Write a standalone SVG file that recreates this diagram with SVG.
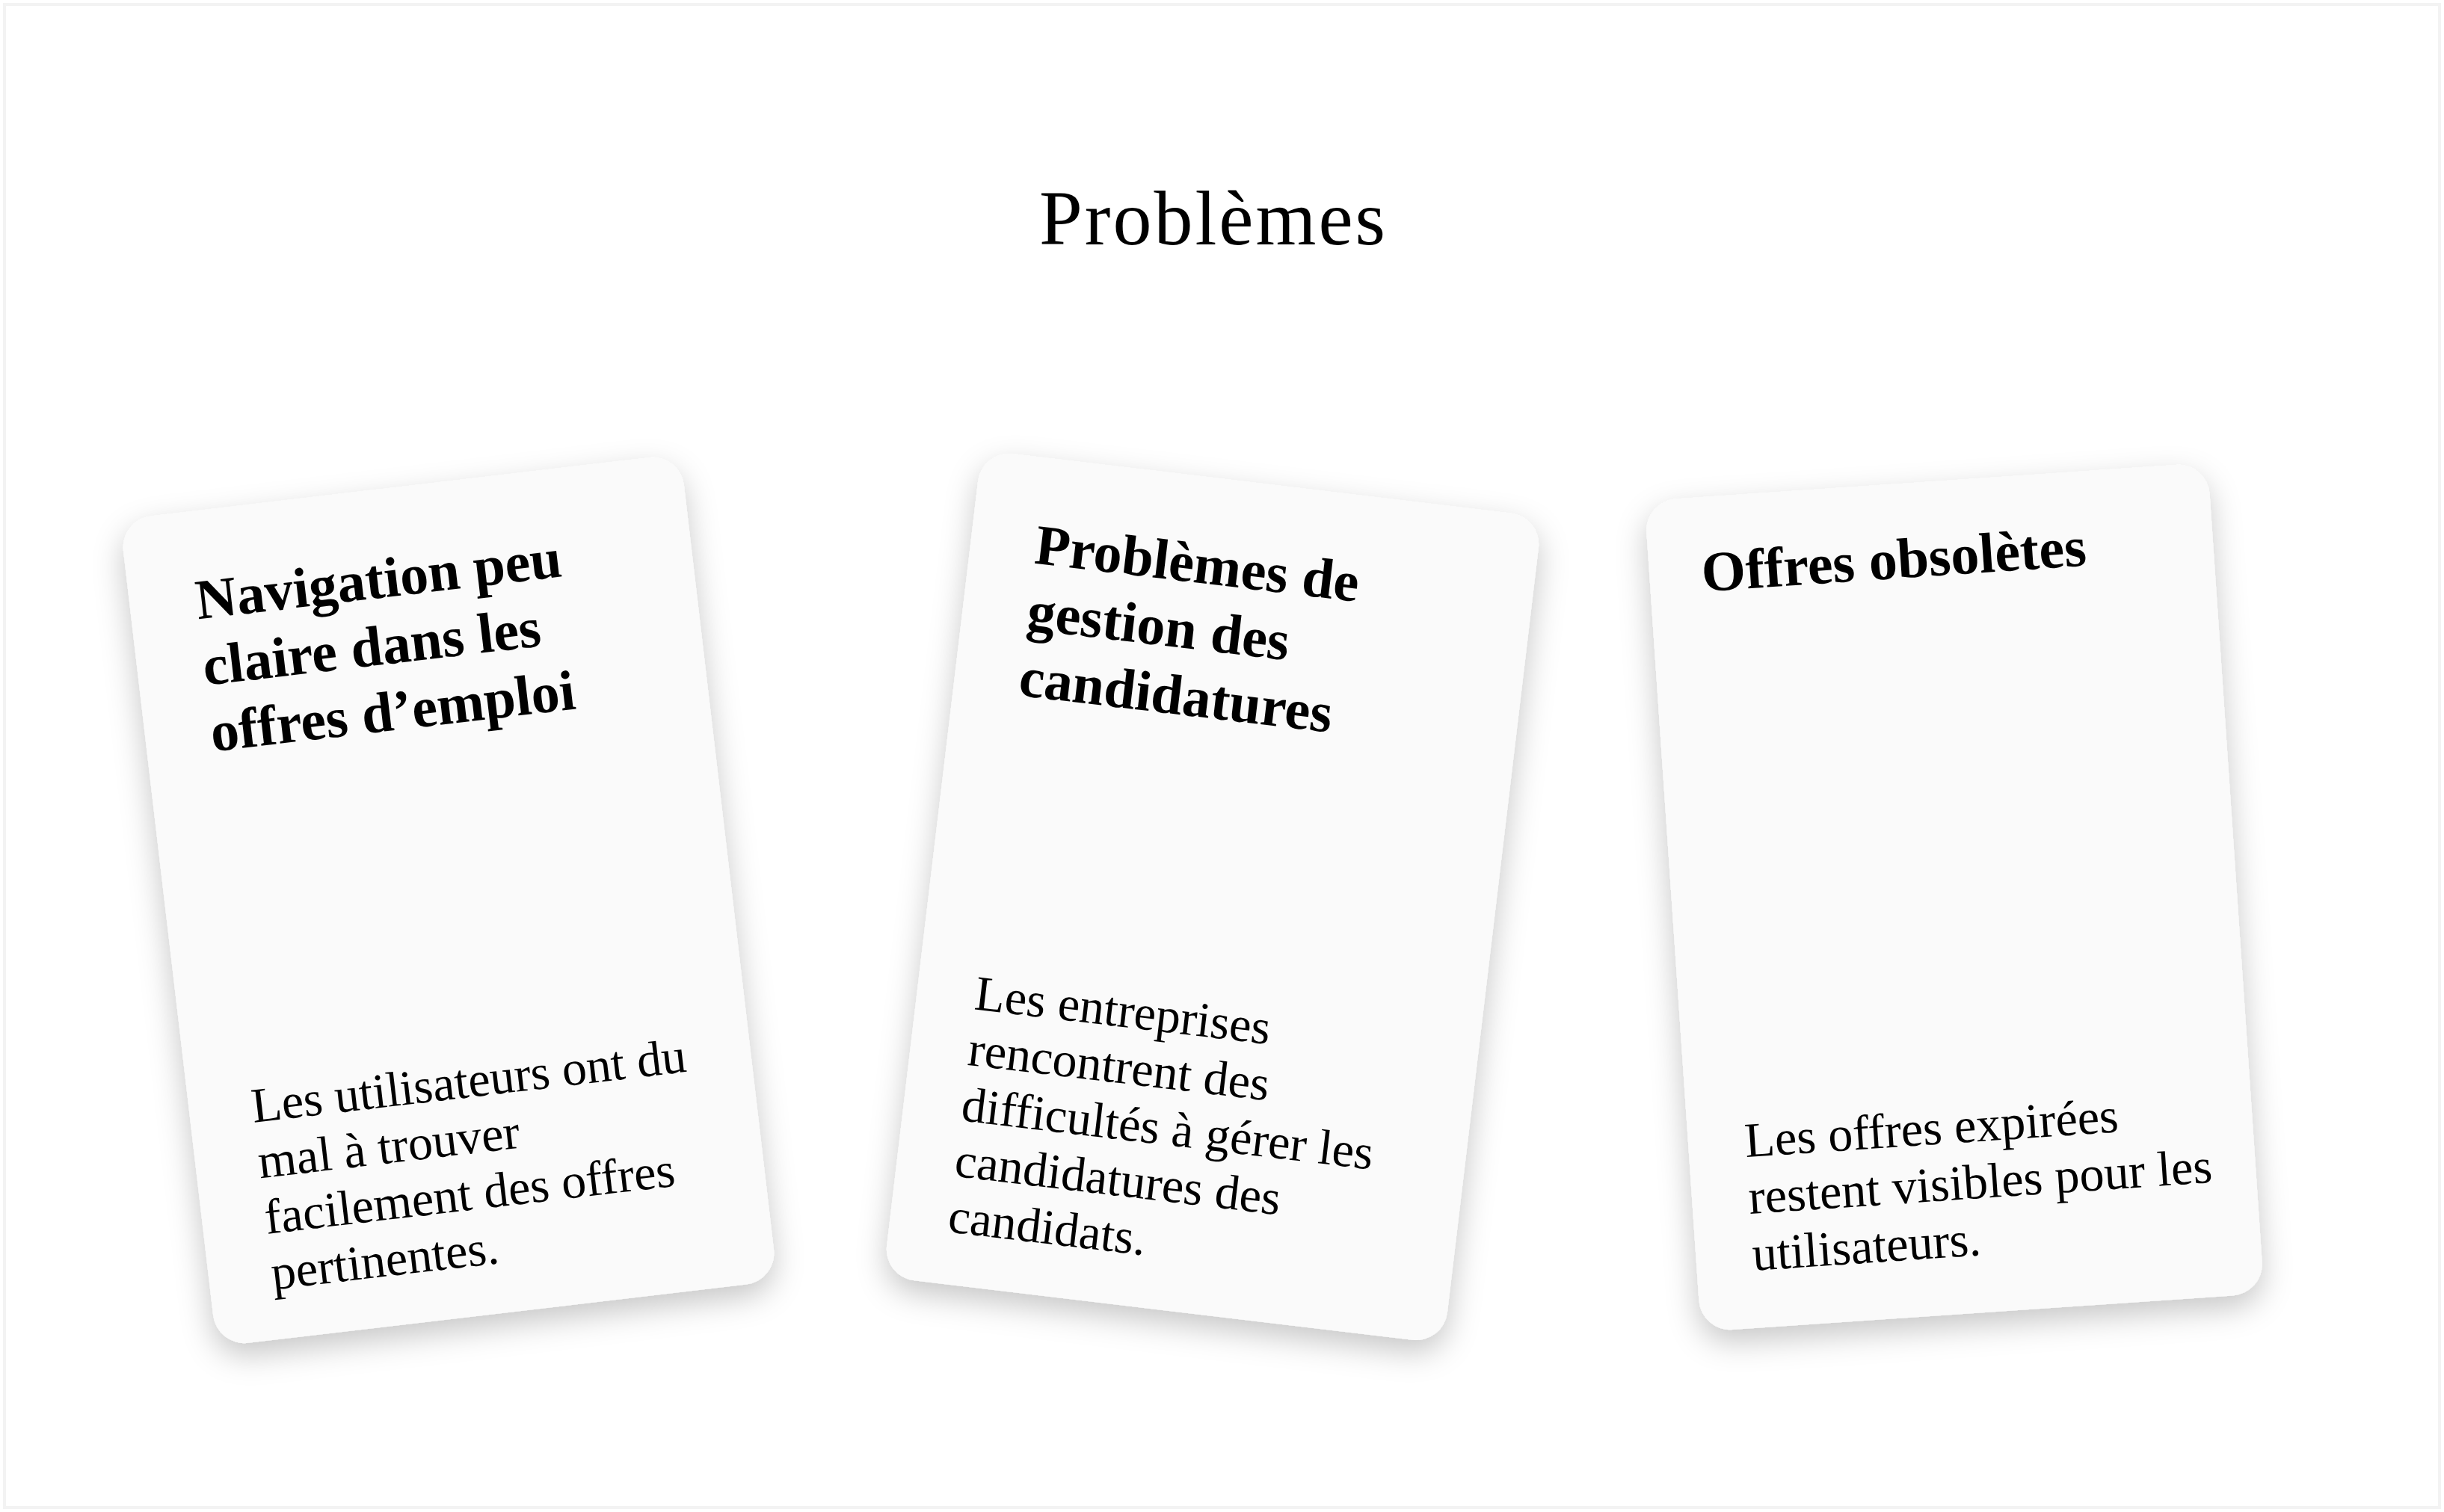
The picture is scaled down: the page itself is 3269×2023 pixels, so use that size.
<svg xmlns="http://www.w3.org/2000/svg" width="3269" height="2023" viewBox="0 0 3269 2023">
<defs>
<filter id="shadow" x="-20%" y="-20%" width="140%" height="140%">
<feDropShadow dx="0" dy="16" stdDeviation="20" flood-color="#000" flood-opacity="0.22"/>
</filter>
<style>
.frame{fill:#fff;stroke:#f3f3f3;stroke-width:4}
.page-title{font-family:"Liberation Serif","Times New Roman",serif;font-size:104px;letter-spacing:3px;fill:#000}
.card{fill:#fafafa}
.head{font-family:"Liberation Serif","Times New Roman",serif;font-size:76px;font-weight:bold;fill:#000}
.body{font-family:"Liberation Serif","Times New Roman",serif;font-size:66px;fill:#000}
</style>
</defs>
<rect x="0" y="0" width="3269" height="2023" fill="#fff"/>
<rect class="frame" x="6" y="6" width="3257" height="2011"/>
<text id="title" class="page-title" x="1623" y="327" text-anchor="middle">Problèmes</text>
<g id="connectors"></g>
<g id="card1" filter="url(#shadow)">
<g transform="translate(600,1204.5) rotate(-6.7)">
<rect class="card" x="-377.5" y="-557" width="755" height="1114" rx="42"/>
<text class="head"><tspan x="-289" y="-412.5">Navigation peu</tspan><tspan x="-290" y="-323.5">claire dans les</tspan><tspan x="-290" y="-234.5">offres d’emploi</tspan></text>
<text class="body"><tspan x="-294" y="265">Les utilisateurs ont du</tspan><tspan x="-294" y="340">mal à trouver</tspan><tspan x="-294" y="415">facilement des offres</tspan><tspan x="-294" y="490">pertinentes.</tspan></text>
</g>
</g>
<g id="card2" filter="url(#shadow)">
<g transform="translate(1622,1200) rotate(6.8)">
<rect class="card" x="-377.5" y="-557" width="755" height="1114" rx="42"/>
<text class="head"><tspan x="-291" y="-415">Problèmes de</tspan><tspan x="-291" y="-326">gestion des</tspan><tspan x="-291" y="-237">candidatures</tspan></text>
<text class="body"><tspan x="-300" y="187">Les entreprises</tspan><tspan x="-300" y="262">rencontrent des</tspan><tspan x="-300" y="337">difficultés à gérer les</tspan><tspan x="-300" y="412">candidatures des</tspan><tspan x="-300" y="487">candidats.</tspan></text>
</g>
</g>
<g id="card3" filter="url(#shadow)">
<g transform="translate(2614,1200.5) rotate(-3.9)">
<rect class="card" x="-377.5" y="-557" width="755" height="1114" rx="42"/>
<text class="head"><tspan x="-308" y="-431">Offres obsolètes</tspan></text>
<text class="body"><tspan x="-302" y="328">Les offres expirées</tspan><tspan x="-302" y="404">restent visibles pour les</tspan><tspan x="-302" y="480">utilisateurs.</tspan></text>
</g>
</g>
</svg>
